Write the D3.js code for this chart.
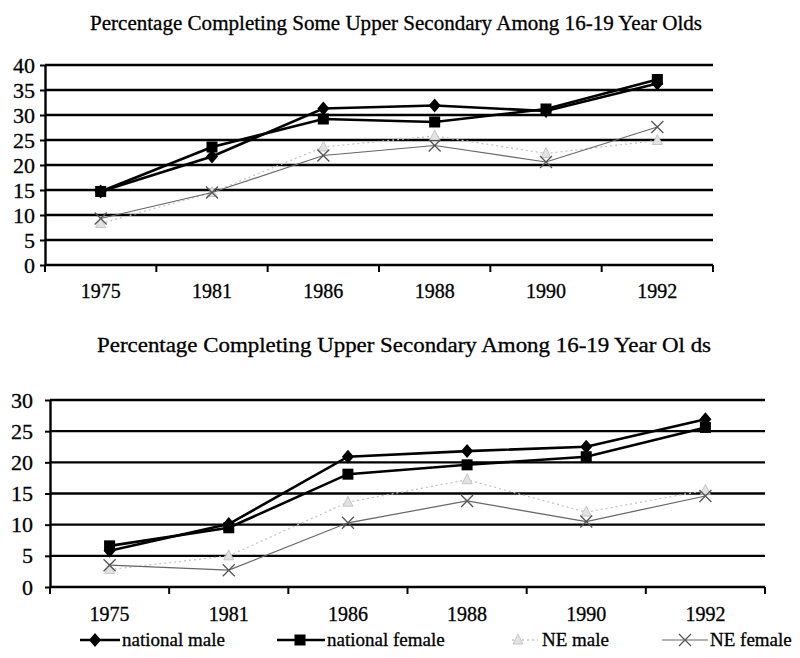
<!DOCTYPE html>
<html><head><meta charset="utf-8">
<script src="https://cdn.jsdelivr.net/npm/d3@7"></script>
<style>
html,body{margin:0;padding:0;background:#fff;}
</style></head>
<body>
<svg id="c" width="800" height="658"></svg>
<script>
// ---------- data ----------
const years = ["1975","1981","1986","1988","1990","1992"];
const seriesNames = ["national male","national female","NE male","NE female"];

// Chart 1: Some upper secondary
const someNatMale   = [14.7, 21.7, 31.3, 31.9, 30.8, 36.3];
const someNatFemale = [14.7, 23.6, 29.2, 28.6, 31.2, 37.1];
const someNeMale    = [8.3, 14.5, 23.6, 25.8, 22.3, 24.9];
const someNeFemale  = [9.3, 14.5, 21.9, 23.9, 20.6, 27.6];
const someTicks = [0,5,10,15,20,25,30,35,40];

// Chart 2: Completing upper secondary
const compNatMale   = [5.8, 10.1, 20.9, 21.8, 22.5, 26.9];
const compNatFemale = [6.6, 9.5, 18.1, 19.6, 20.9, 25.6];
const compNeMale    = [2.8, 5.0, 13.6, 17.2, 12.0, 15.5];
const compNeFemale  = [3.5, 2.7, 10.3, 13.8, 10.5, 14.6];
const compTicks = [0,5,10,15,20,25,30];

const title1 = "Percentage Completing Some Upper Secondary Among 16-19 Year Olds";
const title2 = "Percentage Completing Upper Secondary Among 16-19 Year Ol ds";

// ---------- drawing ----------
const FONT = "'Liberation Serif'";
const svg = d3.select("#c");

const styles = [
  {stroke:"#000", width:2.6, dash:null, marker:"diamond", mfill:"#000", mstroke:"#000"},
  {stroke:"#000", width:2.6, dash:null, marker:"square", mfill:"#000", mstroke:"#000"},
  {stroke:"#c4c4c4", width:1.3, dash:"2,3", marker:"triangle", mfill:"#e2e2e2", mstroke:"#bdbdbd"},
  {stroke:"#666", width:1.2, dash:null, marker:"cross", mfill:"none", mstroke:"#555"}
];

function drawMarker(g, type, x, y, st){
  if(type==="diamond"){
    g.append("path").attr("d",`M${x},${y-7}L${x+6},${y}L${x},${y+7}L${x-6},${y}Z`).attr("fill",st.mfill);
  } else if(type==="square"){
    g.append("rect").attr("x",x-5.5).attr("y",y-5.5).attr("width",11).attr("height",11).attr("fill",st.mfill);
  } else if(type==="triangle"){
    g.append("path").attr("d",`M${x},${y-6}L${x+5},${y+4}L${x-5},${y+4}Z`).attr("fill",st.mfill).attr("stroke",st.mstroke).attr("stroke-width",0.8);
  } else {
    g.append("path").attr("d",`M${x-6},${y-6}L${x+6},${y+6}M${x-6},${y+6}L${x+6},${y-6}`).attr("stroke",st.mstroke).attr("stroke-width",1.3).attr("fill","none");
  }
}

function styleText(sel, size){
  sel.attr("font-family",null).style("font-family",FONT).style("font-size",size+"px")
     .attr("fill","#000").attr("stroke","#000").attr("stroke-width",0.3);
}

function chart(cfg){
  const x = d3.scaleBand().domain(years).range([cfg.left, cfg.right]);
  const y = d3.scaleLinear().domain([0, d3.max(cfg.ticks)]).range([cfg.bottom, cfg.top]);
  const g = svg.append("g");

  // title
  const t = g.append("text").attr("x",cfg.titleX).attr("y",cfg.titleY)
    .attr("textLength",cfg.titleLen).attr("lengthAdjust","spacingAndGlyphs").text(cfg.title);
  styleText(t, 20);

  // gridlines
  g.append("g").selectAll("line").data(cfg.ticks).join("line")
    .attr("x1",cfg.left).attr("x2",cfg.right)
    .attr("y1",d=>y(d)).attr("y2",d=>y(d))
    .attr("stroke","#000").attr("stroke-width",2.4);

  // y axis
  const ya = g.append("g").attr("transform",`translate(${cfg.left},0)`)
    .call(d3.axisLeft(y).tickValues(cfg.ticks).tickSize(5).tickSizeOuter(0).tickPadding(cfg.yPad));
  ya.attr("font-family",null).attr("font-size",null);
  ya.select(".domain").attr("stroke","#000").attr("stroke-width",2.4);
  ya.selectAll(".tick line").attr("stroke-width",2);
  styleText(ya.selectAll("text"), 22);

  // x axis labels
  const xa = g.append("g").attr("transform",`translate(0,${cfg.bottom})`)
    .call(d3.axisBottom(x).tickSize(0).tickPadding(cfg.xPad));
  xa.attr("font-family",null).attr("font-size",null);
  xa.select(".domain").remove();
  styleText(xa.selectAll("text"), 20);

  // x boundary ticks
  const bounds = years.map(d=>x(d)).concat([cfg.right]);
  g.append("g").selectAll("line").data(bounds).join("line")
    .attr("x1",d=>d).attr("x2",d=>d).attr("y1",cfg.bottom).attr("y2",cfg.bottom+7)
    .attr("stroke","#000").attr("stroke-width",2);

  // series
  const cx = d=>x(d)+x.bandwidth()/2;
  const order = [2,3,1,0];
  order.forEach(i=>{
    const vals = cfg.series[i], st = styles[i];
    const line = d3.line().x((v,j)=>cx(years[j])).y(v=>y(v));
    g.append("path").datum(vals).attr("d",line).attr("fill","none")
      .attr("stroke",st.stroke).attr("stroke-width",st.width)
      .attr("stroke-dasharray",st.dash);
    const mg = g.append("g");
    vals.forEach((v,j)=>drawMarker(mg, st.marker, cx(years[j]), y(v), st));
  });
}

chart({left:45,right:713,top:65,bottom:265,ticks:someTicks,
  series:[someNatMale,someNatFemale,someNeMale,someNeFemale],
  title:title1,titleX:90,titleY:30,titleLen:612,xPad:19,yPad:5});
chart({left:50,right:765,top:400,bottom:587,ticks:compTicks,
  series:[compNatMale,compNatFemale,compNeMale,compNeFemale],
  title:title2,titleX:97,titleY:352,titleLen:614,xPad:20,yPad:12});

// legend
const legendX = [[80,120,95,122],[277,325,300,327],[512,538,518,542],[662,708,685,710]];
const ly = 640;
const lg = svg.append("g");
seriesNames.forEach((name,i)=>{
  const st = styles[i], p = legendX[i];
  lg.append("line").attr("x1",p[0]).attr("x2",p[1]).attr("y1",ly).attr("y2",ly)
    .attr("stroke",st.stroke).attr("stroke-width",i<2?2.4:st.width).attr("stroke-dasharray",st.dash);
  drawMarker(lg, st.marker, p[2], ly, st);
  const t = lg.append("text").attr("x",p[3]).attr("y",ly+6).text(name);
  styleText(t, 19);
});
</script>
</body></html>
